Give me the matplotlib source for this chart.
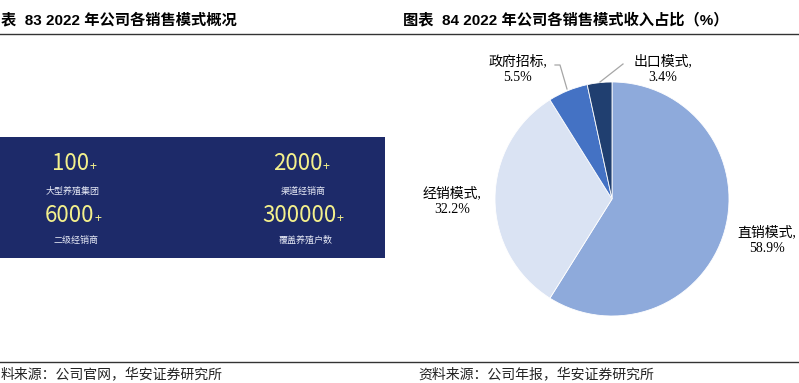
import matplotlib.pyplot as plt
from matplotlib.patches import Rectangle

# === Data ===
modes = ["直销模式", "经销模式", "政府招标", "出口模式"]
shares = [58.9, 32.2, 5.5, 3.4]
pie_colors = ["#8eaadb", "#dae3f3", "#4472c4", "#203f70"]

stat_values = ["100", "2000", "6000", "300000"]
stat_labels = ["大型养殖集团", "渠道经销商", "二级经销商", "覆盖养殖户数"]

left_title = "表  83 2022 年公司各销售模式概况"
right_title = "图表  84 2022 年公司各销售模式收入占比（%）"
left_source = "料来源：公司官网，华安证券研究所"
right_source = "资料来源：公司年报，华安证券研究所"

W, H = 799, 383
SANS = ["Liberation Sans", "Noto Sans CJK SC"]
SERIF = ["Liberation Serif", "Noto Sans CJK SC"]
CJK = ["Noto Sans CJK SC", "DejaVu Sans"]

fig = plt.figure(figsize=(W / 100, H / 100), dpi=100)
fig.patch.set_facecolor("white")

# page axes in pixel units
ax = fig.add_axes([0, 0, 1, 1])
ax.set_xlim(0, W)
ax.set_ylim(H, 0)
ax.axis("off")

# titles and rules
ax.text(1, 20, left_title, family=SANS, fontsize=11, fontweight="bold", va="center", ha="left")
ax.text(403, 20, right_title, family=SANS, fontsize=11, fontweight="bold", va="center", ha="left")
ax.plot([0, W], [34, 34], color="#333333", lw=1.0)
ax.plot([0, W], [362, 362], color="#333333", lw=1.0)
ax.text(1, 374, left_source, family=CJK, fontsize=10, va="center", ha="left", color="#222222")
ax.text(418, 374, right_source, family=CJK, fontsize=10, va="center", ha="left", color="#222222")

# dark info box
ax.add_patch(Rectangle((0, 137), 385, 121, facecolor="#1d2a69", edgecolor="none"))
num_pos = [(52, 163), (273, 163), (45, 215), (262, 215)]
lab_pos = [(73, 191), (303, 191), (76, 240), (306, 240)]
for v, lab, (nx, ny), (lx, ly) in zip(stat_values, stat_labels, num_pos, lab_pos):
    t = ax.text(nx, ny, v, family=CJK, fontsize=16, color="#f3f08c", va="center", ha="left")
    ax.annotate("+", xy=(1, 0.05), xycoords=t, xytext=(0, 0), textcoords="offset points",
                family=CJK, fontsize=9, color="#f3f08c", va="bottom", ha="left")
    ax.text(lx, ly, lab, family=CJK, fontsize=6.5, color="#e6e9f5", va="center", ha="center")

# === Pie ===
cx, cy, r = 612, 199, 117
pax = fig.add_axes([(cx - r) / W, (H - cy - r) / H, 2 * r / W, 2 * r / H])
pax.pie(shares, colors=pie_colors, startangle=90, counterclock=False, radius=1,
        wedgeprops=dict(edgecolor="white", linewidth=0.6))
pax.set_xlim(-1, 1)
pax.set_ylim(-1, 1)
pax.set_aspect("auto")
pax.axis("off")


def px(x, y):
    return (x - cx) / r, (cy - y) / r


label_pos = [(767, 240), (452, 201), (518, 69), (663, 69)]
for m, s, (lx, ly) in zip(modes, shares, label_pos):
    x, y = px(lx, ly)
    pax.text(x, y, f"{m},\n{s}%", family=SERIF, fontsize=10, ha="center", va="center",
             linespacing=1.3, clip_on=False)

# leader lines
for pts in ([(555, 65), (560, 65), (567, 89)], [(623, 64), (600, 82)]):
    xs, ys = zip(*[px(a, b) for a, b in pts])
    pax.plot(xs, ys, color="#a6a6a6", lw=0.9, clip_on=False)

plt.savefig("out.png", dpi=100)
plt.close()
